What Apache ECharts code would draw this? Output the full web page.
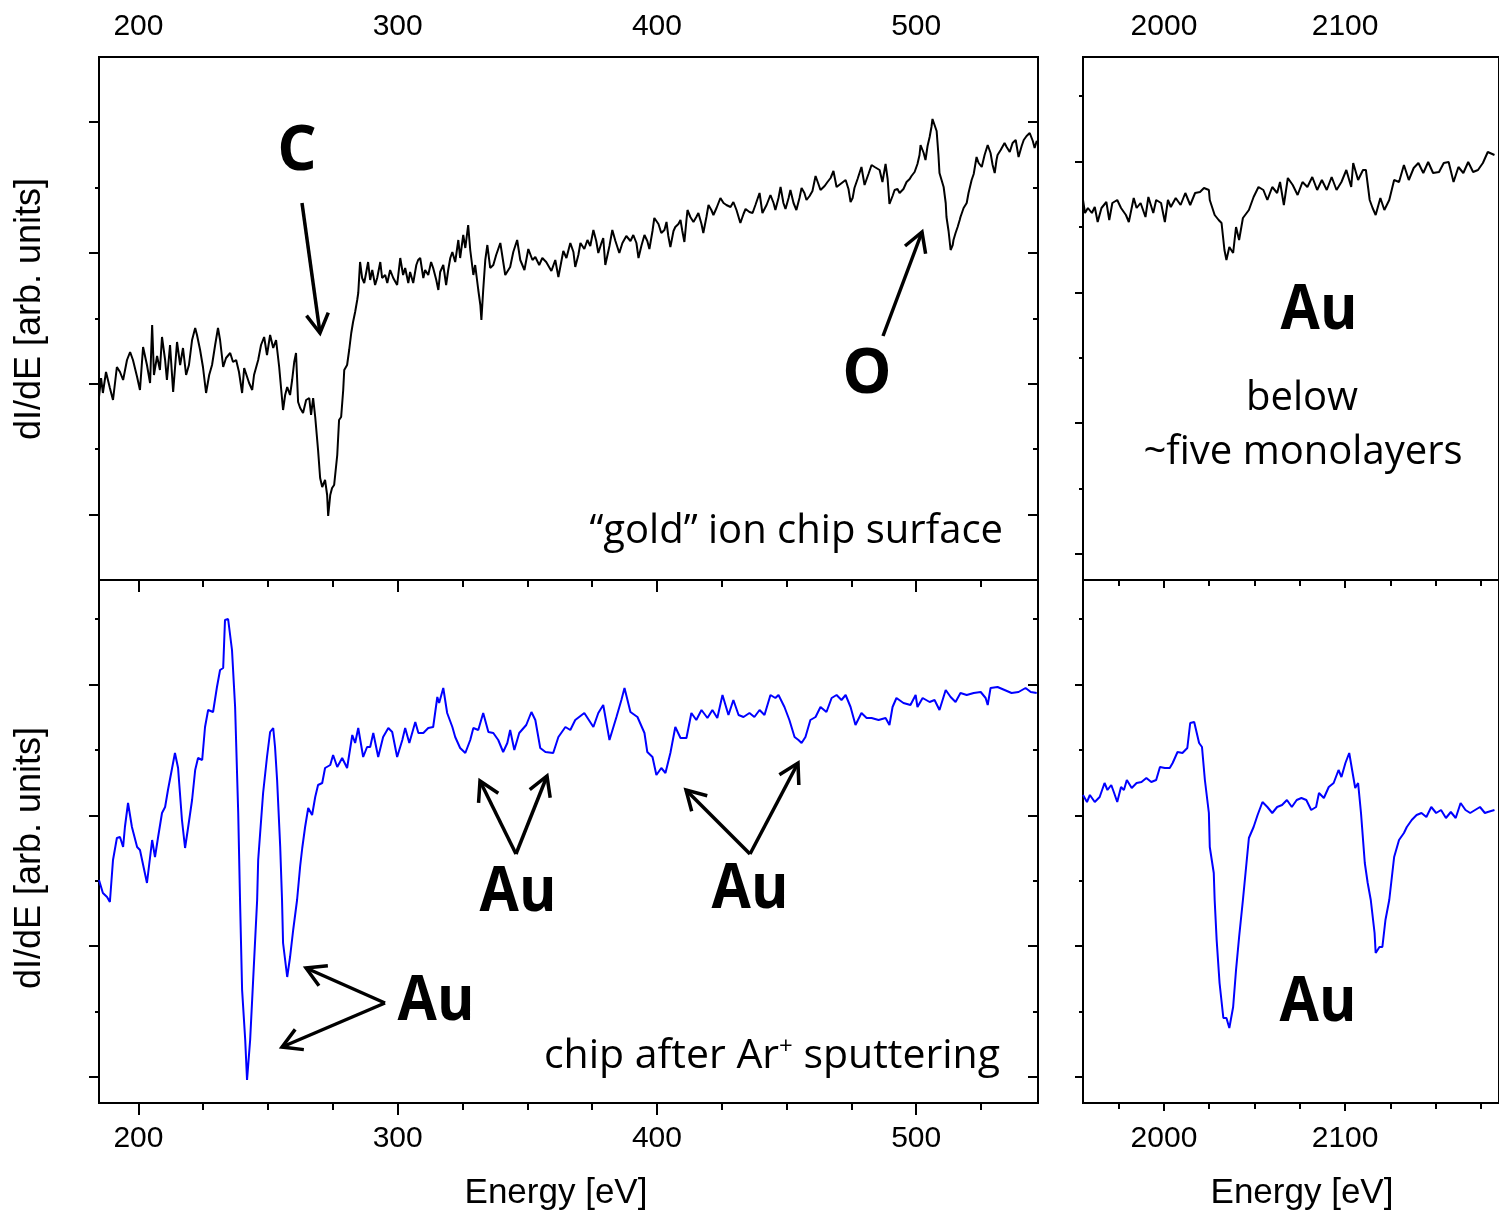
<!DOCTYPE html>
<html><head><meta charset="utf-8">
<script src="https://cdn.jsdelivr.net/npm/echarts@6/dist/echarts.min.js"></script>
<style>html,body{margin:0;padding:0;background:#fff}#c{width:1499px;height:1214px}</style>
</head><body><div id="c"></div>
<script>
// ---------- data: energies (eV) and dI/dE values (arb. units) ----------
const topLeftE = [
184.8,185.6,186.3,187.5,189.0,190.2,191.7,192.9,194.1,195.6,
196.8,197.9,199.5,200.6,201.8,203.3,204.5,205.3,206.0,207.2,
208.3,209.1,210.3,211.0,212.2,213.4,214.9,216.1,217.2,218.4,
219.5,220.7,221.9,222.6,223.8,224.9,226.1,227.3,228.4,229.6,
230.7,231.5,232.7,233.8,235.4,236.5,237.7,238.8,240.0,240.8,
241.5,242.7,243.9,244.6,246.2,247.3,248.5,249.6,250.8,252.0,
253.1,254.3,255.1,255.8,256.6,257.4,258.5,259.3,260.1,260.8,
261.6,262.4,263.5,264.7,265.9,266.6,267.4,268.2,269.3,270.1,
270.9,272.0,272.8,273.2,274.0,274.7,275.5,276.7,277.4,278.2,
279.0,279.4,280.5,281.3,282.1,282.8,283.6,284.4,284.8,285.5,
286.3,287.1,287.9,288.6,289.4,290.2,291.3,292.1,293.3,294.0,
295.2,296.0,297.1,298.3,299.8,301.0,302.1,302.9,304.1,304.8,
306.0,307.2,307.9,308.7,309.9,310.6,311.8,312.9,313.7,314.9,
315.7,316.4,317.6,318.7,319.5,320.3,321.1,322.2,323.4,324.1,
325.3,326.1,327.2,328.0,329.2,329.9,331.1,331.9,332.3,333.0,
333.8,334.6,335.7,336.9,338.0,339.6,341.5,343.4,344.6,346.1,
347.3,348.9,350.4,352.0,353.1,354.6,355.8,357.3,359.3,360.8,
362.0,363.9,365.1,366.6,367.8,368.5,369.7,370.5,372.0,373.2,
374.3,375.5,376.6,377.4,378.6,379.3,380.1,381.7,382.8,384.0,
385.5,386.7,388.2,389.8,390.9,392.1,392.9,394.0,395.2,396.3,
397.1,398.3,399.0,400.6,401.7,402.9,403.7,404.4,405.2,406.4,
407.1,408.3,409.1,409.8,410.6,411.4,411.8,412.9,414.1,415.2,
416.0,417.2,417.9,419.1,419.9,421.0,421.8,423.0,424.5,425.7,
426.8,428.4,429.5,430.7,432.2,433.4,434.2,435.7,436.9,438.0,
439.6,440.7,442.3,443.8,445.0,445.7,446.9,447.7,448.8,449.6,
450.8,451.5,452.7,453.8,455.0,455.8,456.9,457.7,458.9,460.0,
461.2,462.3,463.1,464.7,465.8,467.0,468.1,469.3,470.8,472.8,
473.9,474.7,475.5,476.2,477.4,478.9,480.1,481.6,482.8,484.0,
484.7,485.9,487.0,488.2,489.0,489.7,490.9,491.7,492.8,493.6,
495.1,496.3,497.5,498.2,499.4,500.5,501.3,501.7,502.9,503.6,
504.4,505.2,505.9,506.3,507.1,507.9,508.6,509.0,509.8,510.6,
511.4,511.7,512.5,513.3,514.1,514.4,515.2,516.0,516.8,517.1,
518.3,519.5,520.2,521.4,522.2,523.3,524.1,525.3,526.4,527.6,
528.7,529.5,530.3,531.0,531.4,532.6,534.1,534.9,536.1,537.2,
538.4,539.5,540.7,541.5,542.6,543.8,545.0,545.7,546.5,546.9];
const topLeftV = [
183,202,187,208,192,180,213,208,200,220,
228,220,203,190,233,215,197,255,205,224,
210,243,220,200,235,188,238,215,232,205,
215,240,252,245,230,213,187,205,215,235,
252,240,213,222,227,218,220,208,187,212,
213,197,190,205,220,235,243,225,245,232,
240,213,190,170,185,193,185,200,218,227,
178,172,167,180,182,165,182,163,130,102,
93,100,85,64,85,92,95,125,160,163,
190,210,215,230,247,258,268,280,287,318,
302,297,308,318,300,310,295,302,318,302,
305,297,310,302,295,322,305,312,297,308,
297,315,320,322,302,310,305,318,312,300,
290,308,315,295,310,322,328,318,340,322,
345,332,355,330,305,315,290,275,260,290,
320,335,312,315,325,337,305,313,328,340,
320,310,331,320,323,315,322,318,309,320,
303,329,322,337,328,313,325,337,331,340,
334,350,339,327,337,342,315,334,350,339,
327,337,344,339,345,337,322,334,345,339,
331,349,362,356,347,350,358,344,333,349,
353,356,360,349,338,360,370,363,358,363,
367,356,347,363,375,370,365,372,382,377,
375,373,378,370,357,366,371,368,367,375,
387,367,375,385,377,370,382,393,377,371,
382,390,377,370,382,392,387,380,384,389,
404,396,390,394,398,402,409,393,396,400,
391,378,382,392,401,413,395,406,415,413,
415,410,398,416,401,376,384,390,391,387,
391,398,401,404,408,416,425,435,427,420,
434,443,453,461,455,449,425,407,400,393,
377,363,349,330,335,340,347,353,360,363,
372,377,387,400,406,423,417,413,425,435,
427,415,407,420,425,430,437,433,428,437,
440,423,434,440,444,447,439,432,439,437];

const bottomLeftE = [
184.8,185.2,186.3,187.9,189.0,190.2,191.7,192.9,194.1,194.8,
196.0,197.5,199.5,200.6,203.3,205.3,206.4,207.6,209.1,210.3,
211.4,213.0,214.1,215.3,216.8,218.0,219.2,220.7,221.9,223.0,
224.6,225.7,226.9,228.8,230.3,231.5,232.7,233.4,234.6,236.1,
237.3,238.5,239.2,240.0,241.2,241.9,243.1,244.2,245.8,246.2,
248.1,249.6,250.8,252.0,252.7,253.5,254.7,255.4,255.8,257.4,
258.5,259.7,261.2,262.4,263.2,264.3,265.5,267.0,268.2,269.3,
270.9,272.0,274.0,275.1,276.7,278.6,280.5,282.5,283.6,284.8,
286.7,288.2,289.4,290.6,292.5,294.4,296.4,297.9,299.8,301.8,
302.9,304.5,306.8,308.0,309.9,311.8,313.7,315.3,316.0,317.6,
319.1,321.1,322.2,324.1,326.1,328.0,329.2,331.1,333.0,335.0,
336.9,338.8,340.7,342.3,343.4,345.0,346.9,349.6,351.6,353.1,
355.0,357.0,360.0,362.0,364.7,366.6,368.5,372.0,375.5,377.4,
379.3,381.7,384.4,386.3,387.5,389.8,392.5,395.2,396.3,398.3,
399.8,401.7,403.3,405.2,407.1,409.1,411.4,413.3,415.2,417.2,
419.5,421.4,423.3,425.3,427.6,429.5,431.5,433.4,435.7,437.6,
439.6,441.5,443.8,445.7,446.9,449.2,451.1,453.1,454.6,455.8,
457.3,459.2,461.2,463.1,465.4,467.4,469.3,471.2,472.8,474.7,
476.6,478.9,480.9,482.8,485.5,488.2,489.7,490.9,492.4,495.1,
497.8,499.8,500.5,502.5,505.2,507.1,509.0,511.4,513.3,515.2,
517.1,519.5,522.2,524.9,526.8,527.6,528.7,531.4,534.1,536.8,
539.5,542.2,544.2,546.5];
const bottomLeftV = [
223,221,210,206,201,243,265,266,256,276,
300,276,256,253,220,263,246,266,290,296,
313,335,350,335,283,255,276,303,333,345,
343,376,393,391,416,433,435,483,484,453,
396,290,203,113,63,23,63,120,203,243,
310,346,371,375,356,323,256,203,160,126,
146,173,203,237,255,276,295,288,306,318,
320,335,338,348,336,345,335,368,360,375,
346,356,356,370,346,366,375,371,346,363,
375,360,381,370,370,375,376,406,400,415,
390,376,366,355,350,363,375,373,390,371,
370,363,351,360,373,353,370,378,391,383,
355,351,350,366,376,373,383,390,376,390,
398,363,386,403,415,391,386,370,351,346,
328,335,330,350,376,365,365,390,383,393,
385,393,385,408,388,403,388,386,390,386,
393,388,408,405,408,396,383,366,363,360,
366,383,386,396,391,405,408,403,408,396,
378,390,385,385,383,385,378,396,405,400,
398,408,396,405,401,403,393,413,406,401,
410,408,410,411,405,398,415,416,413,410,
411,415,411,410];

const topRightE = [
1955.3,1956.4,1958.0,1960.2,1961.8,1963.4,1965.5,1968.2,1969.8,1971.5,
1974.2,1976.3,1979.0,1980.6,1983.3,1984.9,1987.1,1989.8,1991.4,1994.1,
1995.7,1998.4,2000.5,2002.2,2003.8,2006.5,2009.2,2011.8,2014.5,2017.2,
2019.9,2022.1,2024.8,2025.3,2028.0,2030.2,2031.8,2033.4,2034.5,2036.1,
2038.2,2039.8,2041.5,2043.6,2046.9,2049.5,2052.2,2054.9,2057.1,2059.8,
2062.5,2064.1,2066.2,2068.4,2071.1,2073.8,2076.5,2079.2,2081.9,2084.6,
2087.2,2089.9,2092.6,2095.3,2098.0,2100.7,2103.4,2104.5,2107.2,2109.9,
2111.5,2113.6,2115.2,2116.9,2119.5,2121.7,2124.4,2127.1,2129.8,2132.5,
2135.2,2137.9,2140.5,2143.2,2145.9,2148.6,2151.9,2154.5,2157.2,2159.9,
2162.6,2165.3,2168.0,2170.7,2173.4,2176.1,2178.8,2182.5];
const topRightV = [
380,367,372,367,373,358,372,378,360,377,
380,372,365,358,382,372,377,363,383,367,
380,377,358,380,373,382,375,387,375,387,
388,392,390,380,365,360,357,330,320,333,
327,353,340,362,370,383,393,390,380,393,
387,398,375,402,395,385,398,393,403,390,
400,390,403,390,398,410,393,417,400,410,
410,380,372,365,382,370,380,400,398,415,
400,412,417,407,418,407,408,417,418,398,
413,407,418,408,410,417,428,425];

const bottomRightE = [
1955.3,1957.5,1959.1,1961.8,1964.5,1967.2,1968.8,1970.9,1972.5,1974.2,
1976.3,1977.9,1979.5,1982.2,1984.9,1987.6,1990.3,1993.0,1995.7,1997.8,
2000.5,2003.2,2004.8,2007.5,2010.2,2012.9,2014.5,2016.7,2019.4,2021.0,
2022.6,2024.8,2025.3,2027.5,2028.0,2029.1,2030.7,2032.8,2034.5,2036.1,
2038.2,2039.8,2041.5,2043.6,2045.2,2046.9,2049.5,2051.7,2054.4,2057.1,
2059.8,2062.5,2065.2,2067.9,2070.6,2073.3,2075.9,2078.6,2081.3,2084.0,
2085.6,2088.3,2091.0,2093.7,2096.4,2098.0,2100.2,2102.3,2103.9,2105.6,
2107.2,2108.8,2110.9,2112.5,2114.2,2116.3,2116.9,2119.0,2120.6,2122.3,
2124.4,2127.1,2129.8,2132.5,2134.1,2136.8,2139.5,2142.2,2144.9,2147.6,
2150.3,2153.0,2155.7,2158.4,2161.1,2163.8,2166.5,2169.1,2171.8,2174.5,
2177.2,2178.8,2182.5];
const bottomRightV = [
308,301,308,301,306,320,313,318,310,301,
316,313,323,315,320,321,325,321,323,336,
335,335,340,351,350,355,380,381,360,356,
323,290,256,230,203,163,120,85,85,75,
96,133,166,203,233,265,276,288,301,296,
290,296,298,303,296,303,305,303,293,296,
310,305,316,320,333,326,340,350,333,315,
320,290,240,220,203,170,150,156,156,183,
203,246,263,270,276,283,288,290,286,296,
290,293,285,291,285,300,293,290,293,296,
290,291,293];

// ---------- axis ticks / labels ----------
const lowLabels = [200, 300, 400, 500];
const lowMinor = [225, 250, 275, 325, 350, 375, 425, 450, 475, 525];
const highLabels = [2000, 2100];
const highMinor = [1975, 2025, 2050, 2075, 2125, 2150, 2175];
const yTopLeftLong = [65.4, 196.2, 327, 457.8];
const yTopLeftShort = [130.8, 261.6, 392.4];
const yLong = [26, 156.8, 287.6, 418.4];
const yShort = [91.4, 222.2, 353, 483.8];

const LOW = [184.8, 547], HIGH = [1955.3, 2185], YR = [0, 523];

function pairs(E, V) { return E.map((e, i) => [e, V[i]]); }

const tickFont = {fontFamily: 'Liberation Sans', fontSize: 30, color: '#000', formatter: v => String(Math.round(v))};
function xAx(g, pos, range, ticks, len, inside, labels, margin) {
  return {
    type: 'value', gridIndex: g, position: pos, min: range[0], max: range[1],
    axisLine: {show: false}, splitLine: {show: false},
    axisTick: {show: true, inside: inside, length: len, customValues: ticks, lineStyle: {color: '#000', width: 2}},
    axisLabel: labels ? Object.assign({show: true, customValues: labels, margin: margin}, tickFont) : {show: false}
  };
}
function yAx(g, pos, ticks, len, inside) {
  return {
    type: 'value', gridIndex: g, position: pos, min: YR[0], max: YR[1],
    axisLine: {show: false}, splitLine: {show: false},
    axisTick: {show: true, inside: inside, length: len, customValues: ticks, lineStyle: {color: '#000', width: 2}},
    axisLabel: {show: false}
  };
}
const gridStyle = {show: true, borderColor: '#000', borderWidth: 2, backgroundColor: 'transparent'};

const xAxes = [
  xAx(0, 'top', LOW, lowLabels, 11, true, lowLabels, 15),
  xAx(0, 'top', LOW, lowMinor, 6, true),
  xAx(0, 'bottom', LOW, lowLabels, 12, false),
  xAx(0, 'bottom', LOW, lowMinor, 7, false),
  xAx(1, 'bottom', LOW, lowLabels, 12, false, lowLabels, 21),
  xAx(1, 'bottom', LOW, lowMinor, 7, false),
  xAx(2, 'top', HIGH, highLabels, 7, true, highLabels, 15),
  xAx(2, 'top', HIGH, highMinor, 4, true),
  xAx(2, 'bottom', HIGH, highLabels, 8, false),
  xAx(2, 'bottom', HIGH, highMinor, 6, false),
  xAx(3, 'bottom', HIGH, highLabels, 8, false, highLabels, 21),
  xAx(3, 'bottom', HIGH, highMinor, 6, false)
];
const yAxes = [
  yAx(0, 'left', yTopLeftLong, 10, false),
  yAx(0, 'left', yTopLeftShort, 4, false),
  yAx(0, 'right', yTopLeftLong, 10, true),
  yAx(0, 'right', yTopLeftShort, 5, true),
  yAx(1, 'left', yLong, 10, false),
  yAx(1, 'left', yShort, 4, false),
  yAx(1, 'right', yLong, 10, true),
  yAx(1, 'right', yShort, 5, true),
  yAx(2, 'left', yLong, 8, false),
  yAx(2, 'left', yShort, 4, false),
  yAx(3, 'left', yLong, 8, false),
  yAx(3, 'left', yShort, 4, false)
];

function lineSeries(data, xi, yi, color) {
  return {type: 'line', xAxisIndex: xi, yAxisIndex: yi, data: data, showSymbol: false, symbol: 'none',
    clip: true, lineStyle: {color: color, width: 2}, animation: false};
}

// ---------- annotations ----------
function arrow(x1, y1, x2, y2) {
  const a = Math.atan2(y2 - y1, x2 - x1), L = 22, h = Math.PI / 6;
  const st = {stroke: '#000', lineWidth: 3.5, fill: null, lineJoin: 'miter', lineCap: 'butt'};
  return [
    {type: 'line', shape: {x1: x1, y1: y1, x2: x2, y2: y2}, style: st},
    {type: 'polyline', shape: {points: [
      [x2 - L * Math.cos(a - h), y2 - L * Math.sin(a - h)], [x2, y2],
      [x2 - L * Math.cos(a + h), y2 - L * Math.sin(a + h)]]}, style: st}
  ];
}
function txt(x, y, text, size, weight, align, family, extra, sx) {
  return {type: 'text', x: x, y: y, scaleX: sx || 1, style: Object.assign({
    text: text, fontSize: size, fontWeight: weight || 'normal', fontFamily: family || 'Open Sans',
    fill: '#000', align: align || 'center', verticalAlign: 'middle'}, extra || {})};
}
const graphics = [].concat(
  arrow(302, 203, 320, 333),
  arrow(883, 336, 922, 232),
  arrow(516, 854, 480, 781), arrow(516, 854, 547, 776),
  arrow(750, 854, 686, 790), arrow(750, 854, 798, 763),
  arrow(385, 1003, 306, 968), arrow(385, 1003, 282, 1047),
  [
    txt(297, 152, 'C', 62, 'bold'),
    txt(867, 375, 'O', 62, 'bold'),
    txt(1319, 311, 'Au', 62, 'bold', 'center', 'Open Sans', null, 0.92),
    txt(518, 893, 'Au', 62, 'bold', 'center', 'Open Sans', null, 0.92),
    txt(750, 890, 'Au', 62, 'bold', 'center', 'Open Sans', null, 0.92),
    txt(436, 1002, 'Au', 62, 'bold', 'center', 'Open Sans', null, 0.92),
    txt(1318, 1003, 'Au', 62, 'bold', 'center', 'Open Sans', null, 0.92),
    txt(1302, 399, 'below', 40),
    txt(1303, 453, '~five monolayers', 40),
    txt(1003, 532, '\u201Cgold\u201D ion chip surface', 40, 'normal', 'right'),
    txt(1000, 1056, 'chip after Ar{sup|+} sputtering', 41, 'normal', 'right', 'Open Sans',
        {rich: {sup: {fontSize: 24, fontFamily: 'Open Sans', verticalAlign: 'top', fill: '#000'}}}),
    txt(556, 1193, 'Energy [eV]', 35, 'normal', 'center', 'Liberation Sans'),
    txt(1302, 1193, 'Energy [eV]', 35, 'normal', 'center', 'Liberation Sans'),
    Object.assign(txt(30, 309, 'dI/dE [arb. units]', 36, 'normal', 'center', 'Liberation Sans'), {rotation: Math.PI / 2}),
    Object.assign(txt(30, 858, 'dI/dE [arb. units]', 36, 'normal', 'center', 'Liberation Sans'), {rotation: Math.PI / 2})
  ]
);

const chart = echarts.init(document.getElementById('c'), null, {renderer: 'canvas'});
chart.setOption({
  animation: false,
  backgroundColor: '#fff',
  grid: [
    Object.assign({left: 99, top: 57, width: 939, height: 523}, gridStyle),
    Object.assign({left: 99, top: 580, width: 939, height: 523}, gridStyle),
    Object.assign({left: 1083, top: 57, width: 427, height: 523}, gridStyle),
    Object.assign({left: 1083, top: 580, width: 427, height: 523}, gridStyle)
  ],
  xAxis: xAxes,
  yAxis: yAxes,
  series: [
    lineSeries(pairs(topLeftE, topLeftV), 0, 0, '#000'),
    lineSeries(pairs(bottomLeftE, bottomLeftV), 4, 4, '#0000ff'),
    lineSeries(pairs(topRightE, topRightV), 6, 8, '#000'),
    lineSeries(pairs(bottomRightE, bottomRightV), 10, 10, '#0000ff')
  ],
  graphic: graphics
});
</script></body></html>
